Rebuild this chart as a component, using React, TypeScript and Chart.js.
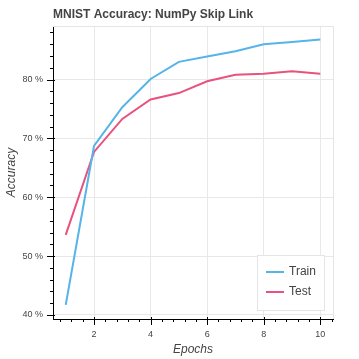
import React, { useEffect, useRef } from "react";
import { Chart, registerables } from "chart.js";

Chart.register(...registerables);

const epochs = [1, 2, 3, 4, 5, 6, 7, 8, 9, 10];
const trainAcc = [41.7, 68.7, 75.3, 80.1, 83.0, 83.9, 84.8, 86.0, 86.4, 86.8];
const testAcc = [53.6, 67.7, 73.3, 76.6, 77.7, 79.7, 80.8, 81.0, 81.4, 81.0];
const seriesNames = ["Train", "Test"];
const seriesColors = ["#56B4E9", "#E8527F"];
const titleText = "MNIST Accuracy: NumPy Skip Link";
const xTitle = "Epochs";
const yTitle = "Accuracy";

const X_MIN = 0.55;
const X_MAX = 10.45;
const Y_MIN = 39.3;
const Y_MAX = 89.1;
const X_MINOR = 0.4;
const X_MAJOR = 2;
const Y_MINOR = 2;
const Y_MAJOR = 10;

const isMult = (v: number, m: number) => {
  const r = v / m;
  return Math.abs(r - Math.round(r)) < 1e-6;
};

const FONT = "'Liberation Sans', Arial, sans-serif";

const decorPlugin = {
  id: "decor",
  afterDraw(chart: any) {
    const ctx = chart.ctx;
    const a = chart.chartArea;
    const xs = chart.scales.x;
    const ys = chart.scales.y;
    ctx.save();
    // outline top & right
    ctx.strokeStyle = "#e5e5e5";
    ctx.lineWidth = 1;
    ctx.beginPath();
    ctx.moveTo(a.left, a.top + 0.5);
    ctx.lineTo(a.right + 0.5, a.top + 0.5);
    ctx.lineTo(a.right + 0.5, a.bottom);
    ctx.stroke();
    // tick marks
    ctx.strokeStyle = "#000";
    ctx.lineWidth = 1;
    ctx.beginPath();
    for (const t of xs.ticks) {
      const px = Math.round(xs.getPixelForValue(t.value)) + 0.5;
      const major = isMult(t.value, X_MAJOR);
      ctx.moveTo(px, a.bottom + (major ? -2 : 0));
      ctx.lineTo(px, a.bottom + (major ? 6 : 3));
    }
    for (const t of ys.ticks) {
      const py = Math.round(ys.getPixelForValue(t.value)) + 0.5;
      const major = isMult(t.value, Y_MAJOR);
      ctx.moveTo(a.left + (major ? 2 : 0), py);
      ctx.lineTo(a.left - (major ? 6 : 3), py);
    }
    ctx.stroke();
    // title
    ctx.fillStyle = "#444";
    ctx.font = `bold 12px ${FONT}`;
    ctx.textAlign = "left";
    ctx.textBaseline = "alphabetic";
    ctx.fillText(titleText, a.left, 18);
    // axis titles
    ctx.font = `italic 12px ${FONT}`;
    ctx.textAlign = "center";
    ctx.textBaseline = "middle";
    ctx.fillText(xTitle, (a.left + a.right) / 2, 350);
    ctx.save();
    ctx.translate(12, (a.top + a.bottom) / 2);
    ctx.rotate(-Math.PI / 2);
    ctx.fillText(yTitle, 0, 0);
    ctx.restore();
    // legend
    const lx = 257, ly = 255, lw = 67, lh = 55;
    ctx.fillStyle = "rgba(255,255,255,0.95)";
    ctx.fillRect(lx, ly, lw, lh);
    ctx.strokeStyle = "#e5e5e5";
    ctx.strokeRect(lx + 0.5, ly + 0.5, lw, lh);
    ctx.font = `12px ${FONT}`;
    ctx.textAlign = "left";
    ctx.textBaseline = "middle";
    const rows = [272, 292];
    seriesNames.forEach((name, i) => {
      const y = rows[i];
      ctx.strokeStyle = seriesColors[i];
      ctx.lineWidth = 2;
      ctx.beginPath();
      ctx.moveTo(266, y);
      ctx.lineTo(284, y);
      ctx.stroke();
      ctx.fillStyle = "#444";
      ctx.fillText(name, 289, y);
    });
    ctx.restore();
  },
};

export default function App() {
  const ref = useRef<HTMLCanvasElement | null>(null);
  useEffect(() => {
    document.body.style.margin = "0";
    const canvas = ref.current;
    if (!canvas) return;
    const chart = new Chart(canvas, {
      type: "line",
      data: {
        datasets: [
          {
            label: seriesNames[0],
            data: epochs.map((e, i) => ({ x: e, y: trainAcc[i] })),
            borderColor: seriesColors[0],
            borderWidth: 2,
            pointRadius: 0,
            tension: 0,
          },
          {
            label: seriesNames[1],
            data: epochs.map((e, i) => ({ x: e, y: testAcc[i] })),
            borderColor: seriesColors[1],
            borderWidth: 2,
            pointRadius: 0,
            tension: 0,
          },
        ],
      },
      options: {
        animation: false,
        responsive: false,
        devicePixelRatio: 1,
        layout: { padding: { top: 26, right: 26, left: 0, bottom: 0 } },
        plugins: {
          legend: { display: false },
          title: { display: false },
          tooltip: { enabled: false },
        },
        scales: {
          x: {
            type: "linear",
            min: X_MIN,
            max: X_MAX,
            afterFit: (s: any) => {
              s.height = 40;
            },
            afterBuildTicks: (s: any) => {
              const t = [];
              for (let v = Math.ceil(X_MIN / X_MINOR) * X_MINOR; v <= X_MAX + 1e-9; v += X_MINOR) {
                t.push({ value: Math.round(v * 1000) / 1000 });
              }
              s.ticks = t;
            },
            ticks: {
              autoSkip: false,
              maxRotation: 0,
              padding: 10,
              color: "#444",
              font: { family: FONT, size: 9 },
              callback: (v: any) => (isMult(Number(v), X_MAJOR) ? String(Math.round(Number(v))) : ""),
            },
            grid: {
              drawTicks: false,
              color: (c: any) => (c.tick && isMult(c.tick.value, X_MAJOR) ? "#e8e8e8" : "rgba(0,0,0,0)"),
            },
            border: { color: "#000", width: 1 },
          },
          y: {
            type: "linear",
            min: Y_MIN,
            max: Y_MAX,
            afterFit: (s: any) => {
              s.width = 53;
            },
            afterBuildTicks: (s: any) => {
              const t = [];
              for (let v = Math.ceil(Y_MIN / Y_MINOR) * Y_MINOR; v <= Y_MAX + 1e-9; v += Y_MINOR) {
                t.push({ value: v });
              }
              s.ticks = t;
            },
            ticks: {
              autoSkip: false,
              padding: 10,
              color: "#444",
              font: { family: FONT, size: 9 },
              callback: (v: any) => (isMult(Number(v), Y_MAJOR) ? `${Math.round(Number(v))} %` : ""),
            },
            grid: {
              drawTicks: false,
              color: (c: any) => (c.tick && isMult(c.tick.value, Y_MAJOR) ? "#e8e8e8" : "rgba(0,0,0,0)"),
            },
            border: { color: "#000", width: 1 },
          },
        },
      },
      plugins: [decorPlugin],
    } as any);
    return () => chart.destroy();
  }, []);
  return (
    <div style={{ width: 359, height: 359 }}>
      <canvas ref={ref} width={359} height={359} style={{ display: "block" }} />
    </div>
  );
}
